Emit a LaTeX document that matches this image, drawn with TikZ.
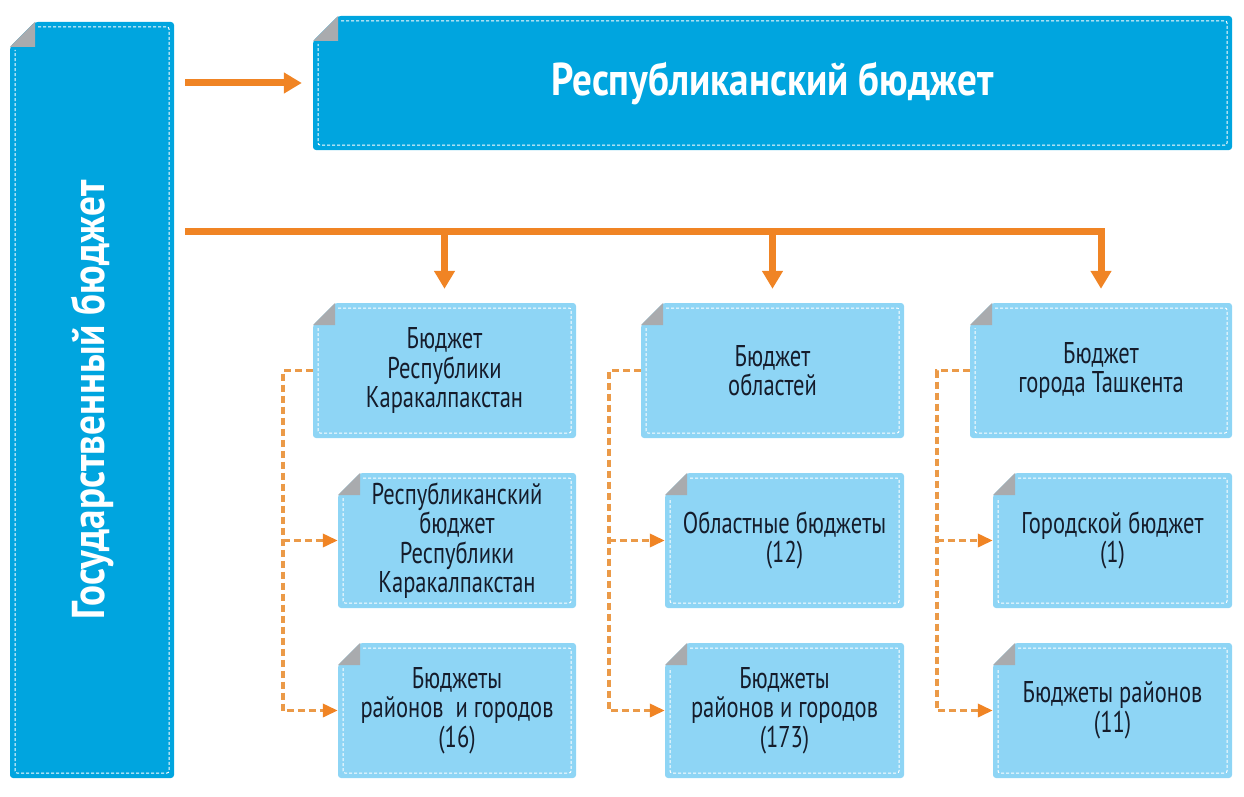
\documentclass[tikz,border=0pt]{standalone}
\usepackage{fontspec}
\usetikzlibrary{arrows.meta}
\newfontfamily\condfont[FakeStretch=0.75]{PT Sans}
\newfontfamily\condbold[FakeStretch=0.85]{PT Sans Bold}
\definecolor{darkblue}{RGB}{0,165,223}
\definecolor{lightblue}{RGB}{142,213,245}
\definecolor{foldgray}{RGB}{169,171,174}
\definecolor{orangeA}{RGB}{240,132,36}
\definecolor{orangeB}{RGB}{235,154,72}
\definecolor{textcol}{RGB}{21,28,43}
\tikzset{
  innerdash/.style={white, line width=1pt, dash pattern=on 3pt off 2pt},
  boxtext/.style={font=\condfont\fontsize{30}{29.5}\selectfont, text=textcol, align=center, inner sep=0pt},
  titletext/.style={font=\condbold\fontsize{46}{48}\selectfont, text=white, inner sep=0pt},
  oline/.style={orangeA, line width=7pt},
  oarrow/.style={orangeA, line width=7pt, -{Triangle[length=18pt,width=20pt]}},
  dline/.style={orangeB, line width=3.5pt, dash pattern=on 7pt off 4pt, -{Triangle[length=15pt,width=13pt,color=orangeA]}}
}
% name, x1, y1, x2, y2, fill, fold, text
\newcommand\docbox[8]{%
  \fill[#6, rounded corners=3pt] ({#2+#7},#3) -- (#4,#3) -- (#4,#5) -- (#2,#5) -- (#2,{#3+#7}) -- cycle;
  \fill[foldgray] ({#2+#7},#3) -- ({#2+#7},{#3+#7}) -- (#2,{#3+#7}) -- cycle;
  \draw[innerdash, rounded corners=2pt] ({#2+#7+3},{#3+5}) -- ({#4-5},{#3+5}) -- ({#4-5},{#5-5}) -- ({#2+5},{#5-5}) -- ({#2+5},{#3+#7+3});
  \node[boxtext, minimum width={(#4-#2)*1pt}, minimum height={(#5-#3)*1pt}] (#1) at ({(#2+#4)/2},{(#3+#5)/2}) {#8};
}
\begin{document}
\begin{tikzpicture}[x=1pt,y=-1pt]
\useasboundingbox (0,0) rectangle (1244,797);
% big boxes
\docbox{gb}{10}{22}{174}{778}{darkblue}{25}{}
\node[titletext, rotate=90] (gbt) at (gb.center) {Государственный бюджет};
\docbox{top}{313}{16}{1232}{150}{darkblue}{25}{}
\node[titletext] (topt) at (top.center) {Республиканский бюджет};
% column 1
\docbox{t1}{313}{303}{576}{438}{lightblue}{22}{Бюджет\\Республики\\Каракалпакстан}
\docbox{m1}{338}{473}{576}{608}{lightblue}{22}{Республиканский\\бюджет\\Республики\\Каракалпакстан}
\docbox{b1}{338}{643}{576}{778}{lightblue}{22}{Бюджеты\\районов~ и городов\\(16)}
% column 2
\docbox{t2}{641}{303}{904}{438}{lightblue}{22}{Бюджет\\областей}
\docbox{m2}{665}{473}{904}{608}{lightblue}{22}{Областные бюджеты\\(12)}
\docbox{b2}{665}{643}{904}{778}{lightblue}{22}{Бюджеты\\районов и городов\\(173)}
% column 3
\docbox{t3}{970}{303}{1232}{438}{lightblue}{22}{Бюджет\\города Ташкента}
\docbox{m3}{993}{473}{1232}{608}{lightblue}{22}{Городской бюджет\\(1)}
\docbox{b3}{993}{643}{1232}{778}{lightblue}{22}{Бюджеты районов\\(11)}
% solid connectors
\draw[oarrow] ([xshift=11pt]gb.east |- top.west) -- ([xshift=-11pt]top.west);
\coordinate (bus) at (185,231);
\draw[oarrow] (bus) -| ([yshift=14pt]t3.north);
\draw[oarrow] (bus -| t1.north) -- ([yshift=14pt]t1.north);
\draw[oarrow] (bus -| t2.north) -- ([yshift=14pt]t2.north);
% dashed connectors
\draw[dline] (t1.west) -- ++(-30,0) coordinate (v1) |- (b1.west);
\draw[dline] (v1 |- m1.west) -- (m1.west);
\draw[dline] (t2.west) -- ++(-32,0) coordinate (v2) |- (b2.west);
\draw[dline] (v2 |- m2.west) -- (m2.west);
\draw[dline] (t3.west) -- ++(-33,0) coordinate (v3) |- (b3.west);
\draw[dline] (v3 |- m3.west) -- (m3.west);
\end{tikzpicture}
\end{document}
